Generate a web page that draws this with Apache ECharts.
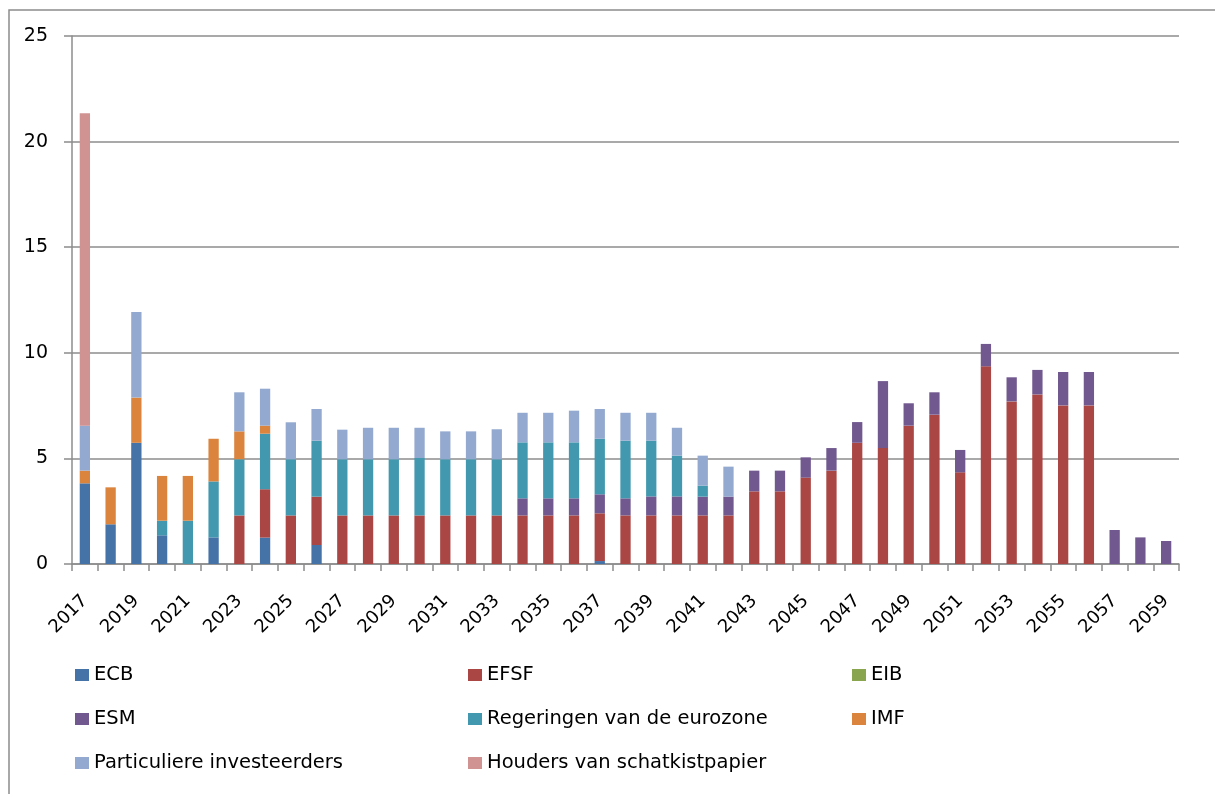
<!DOCTYPE html>
<html>
<head>
<meta charset="utf-8">
<script src="https://cdn.jsdelivr.net/npm/echarts@6/dist/echarts.min.js"></script>
<style>
  html, body { margin: 0; padding: 0; background: #fff; }
  #chart { width: 1215px; height: 794px; }
</style>
</head>
<body>
<div id="chart"></div>
<script>
// jaartallen
const years = [];
for (let y = 2017; y <= 2059; y++) years.push(String(y));

// aflossingen per crediteur (mld euro)
const ecb = [3.82, 1.88, 5.74, 1.36, 0, 1.26, 0, 1.25, 0, 0.9,
  0, 0, 0, 0, 0, 0, 0, 0, 0, 0,
  0.14, 0, 0, 0, 0, 0, 0, 0, 0, 0,
  0, 0, 0, 0, 0, 0, 0, 0, 0, 0,
  0, 0, 0];
const efsf = [0, 0, 0, 0, 0, 0, 2.3, 2.29, 2.3, 2.29,
  2.3, 2.3, 2.3, 2.3, 2.3, 2.3, 2.3, 2.3, 2.3, 2.3,
  2.26, 2.3, 2.3, 2.3, 2.3, 2.3, 3.44, 3.44, 4.09, 4.42,
  5.74, 5.49, 6.55, 7.07, 4.34, 9.36, 7.7, 8.03, 7.51, 7.51,
  0, 0, 0];
const eib = [0, 0, 0, 0, 0, 0, 0, 0, 0, 0,
  0, 0, 0, 0, 0, 0, 0, 0, 0, 0,
  0, 0, 0, 0, 0, 0, 0, 0, 0, 0,
  0, 0, 0, 0, 0, 0, 0, 0, 0, 0,
  0, 0, 0];
const esm = [0, 0, 0, 0, 0, 0, 0, 0, 0, 0,
  0, 0, 0, 0, 0, 0, 0, 0.81, 0.81, 0.81,
  0.9, 0.81, 0.9, 0.9, 0.89, 0.89, 0.98, 0.98, 0.96, 1.07,
  0.98, 3.17, 1.06, 1.06, 1.06, 1.06, 1.14, 1.16, 1.58, 1.58,
  1.61, 1.26, 1.09];
const regeringen = [0, 0, 0, 0.69, 2.05, 2.65, 2.66, 2.63, 2.66, 2.65,
  2.66, 2.66, 2.66, 2.72, 2.66, 2.66, 2.66, 2.65, 2.65, 2.65,
  2.63, 2.73, 2.64, 1.93, 0.52, 0, 0, 0, 0, 0,
  0, 0, 0, 0, 0, 0, 0, 0, 0, 0,
  0, 0, 0];
const imf = [0.6, 1.75, 2.14, 2.12, 2.12, 2.02, 1.32, 0.38, 0, 0,
  0, 0, 0, 0, 0, 0, 0, 0, 0, 0,
  0, 0, 0, 0, 0, 0, 0, 0, 0, 0,
  0, 0, 0, 0, 0, 0, 0, 0, 0, 0,
  0, 0, 0];
const particulier = [2.13, 0, 4.05, 0, 0, 0, 1.85, 1.75, 1.75, 1.5,
  1.4, 1.49, 1.49, 1.43, 1.32, 1.32, 1.42, 1.4, 1.4, 1.5,
  1.41, 1.32, 1.32, 1.32, 1.42, 1.42, 0, 0, 0, 0,
  0, 0, 0, 0, 0, 0, 0, 0, 0, 0,
  0, 0, 0];
const houders = [14.79, 0, 0, 0, 0, 0, 0, 0, 0, 0,
  0, 0, 0, 0, 0, 0, 0, 0, 0, 0,
  0, 0, 0, 0, 0, 0, 0, 0, 0, 0,
  0, 0, 0, 0, 0, 0, 0, 0, 0, 0,
  0, 0, 0];

const seriesDefs = [
  { name: 'ECB', data: ecb, color: '#4572A7' },
  { name: 'EFSF', data: efsf, color: '#AA4643' },
  { name: 'EIB', data: eib, color: '#89A54E' },
  { name: 'ESM', data: esm, color: '#71588F' },
  { name: 'Regeringen van de eurozone', data: regeringen, color: '#4198AF' },
  { name: 'IMF', data: imf, color: '#DB843D' },
  { name: 'Particuliere investeerders', data: particulier, color: '#93A9CF' },
  { name: 'Houders van schatkistpapier', data: houders, color: '#D19392' }
];

const font = '"DejaVu Sans", sans-serif';
const axisGray = '#8c8c8c';

// legenda in drie kolommen
const legendCol = (names, left) => ({
  orient: 'vertical',
  left: left,
  top: 664,
  padding: 0,
  itemWidth: 14,
  itemHeight: 12,
  itemGap: 22,
  icon: 'rect',
  data: names,
  textStyle: { fontFamily: font, fontSize: 19.5, color: '#000', lineHeight: 22 }
});

const chart = echarts.init(document.getElementById('chart'));
chart.setOption({
  animation: false,
  color: seriesDefs.map(s => s.color),
  textStyle: { fontFamily: font },
  graphic: [{
    type: 'rect',
    shape: { x: 9, y: 10, width: 1230, height: 820 },
    style: { fill: 'none', stroke: '#8c8c8c', lineWidth: 1.5 },
    silent: true
  }],
  grid: { left: 72, right: 36, top: 36, bottom: 230, containLabel: false },
  legend: [
    legendCol(['ECB', 'ESM', 'Particuliere investeerders'], 75),
    legendCol(['EFSF', 'Regeringen van de eurozone', 'Houders van schatkistpapier'], 468),
    legendCol(['EIB', 'IMF'], 852)
  ],
  xAxis: {
    type: 'category',
    data: years,
    boundaryGap: true,
    axisLine: { lineStyle: { color: axisGray, width: 1.5 } },
    axisTick: { show: true, interval: 0, length: 7, lineStyle: { color: axisGray, width: 1.5 } },
    axisLabel: {
      interval: 1,
      rotate: 45,
      margin: 34,
      fontFamily: font,
      fontSize: 18,
      color: '#000'
    }
  },
  yAxis: {
    type: 'value',
    min: 0,
    max: 25,
    interval: 5,
    axisLine: { show: true, lineStyle: { color: axisGray, width: 1.5 } },
    axisTick: { show: true, length: 8, lineStyle: { color: axisGray, width: 1.5 } },
    splitLine: { lineStyle: { color: axisGray, width: 1.5 } },
    axisLabel: { margin: 24, fontFamily: font, fontSize: 19, color: '#000' }
  },
  series: seriesDefs.map(s => ({
    name: s.name,
    type: 'bar',
    stack: 'totaal',
    barWidth: '40%',
    data: s.data,
    itemStyle: { color: s.color }
  }))
});
</script>
</body>
</html>
